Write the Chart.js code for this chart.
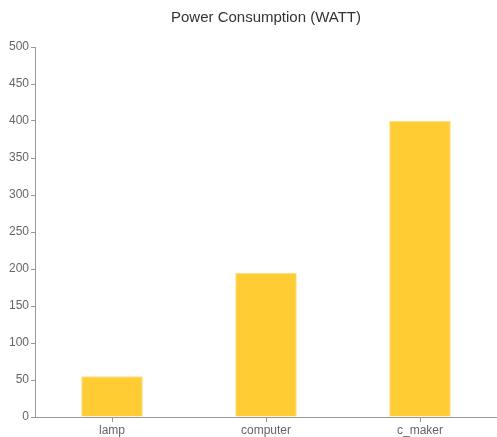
<!DOCTYPE html>
<html><head><meta charset="utf-8">
<script src="https://cdn.jsdelivr.net/npm/chart.js@4/dist/chart.umd.min.js"></script>
<style>html,body{margin:0;padding:0;background:#fff}#w{width:497px;height:437px}</style>
</head><body><div id="w"><canvas id="c"></canvas></div>
<script>
const categories = ["lamp", "computer", "c_maker"];
const watts = [55, 195, 400];
const yTicks = [0, 50, 100, 150, 200, 250, 300, 350, 400, 450, 500];
Chart.defaults.font.family = "'Liberation Sans', Arial, sans-serif";
new Chart(document.getElementById('c'), {
  type: 'bar',
  data: { labels: categories, datasets: [{ data: watts, backgroundColor: '#FFCC33', borderColor: '#FFE08A', borderWidth: 1, categoryPercentage: 0.4, barPercentage: 1 }] },
  options: {
    responsive: true, maintainAspectRatio: false, animation: false,
    layout: { padding: { left: 7, right: 0, top: 7, bottom: -3 } },
    plugins: { legend: { display: false }, tooltip: { enabled: false },
      title: { display: true, fullSize: false, text: 'Power Consumption (WATT)', color: '#333', font: { size: 15, weight: 'normal' }, padding: { top: 2, bottom: 20 } } },
    scales: {
      x: { grid: { display: true, offset: false, drawOnChartArea: false, drawTicks: true, tickLength: 5, color: '#999' }, border: { color: '#999' }, ticks: { color: '#666', font: { size: 12, lineHeight: 1 }, padding: 3 } },
      y: { min: 0, max: 500, afterBuildTicks: a => { a.ticks = yTicks.map(v => ({ value: v })); },
        grid: { display: true, drawOnChartArea: false, tickLength: 4, color: '#999' }, border: { color: '#999' }, ticks: { color: '#666', font: { size: 12 }, padding: 2 } }
    }
  }
});
</script></body></html>
